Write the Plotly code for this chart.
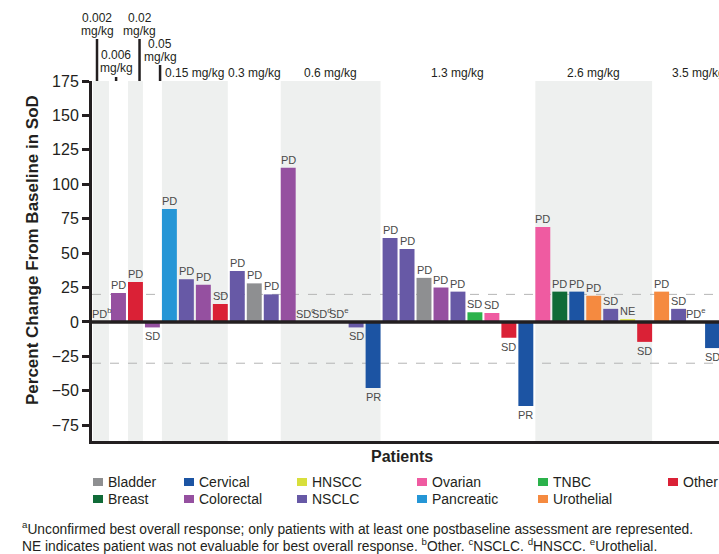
import plotly.graph_objects as go

# ---------------- data ----------------
slots = list(range(1, 38))
cancer = ["Other", "Colorectal", "Other", "Colorectal", "Pancreatic", "NSCLC", "Colorectal", "Other",
          "NSCLC", "Bladder", "NSCLC", "Colorectal", "NSCLC", "HNSCC", "Urothelial", "NSCLC", "Cervical",
          "NSCLC", "NSCLC", "Bladder", "Colorectal", "NSCLC", "TNBC", "Ovarian", "Other", "Cervical",
          "Ovarian", "Breast", "Cervical", "Urothelial", "NSCLC", "HNSCC", "Other",
          "Urothelial", "NSCLC", "Urothelial", "Cervical"]
change = [0, 21, 29, -4, 82, 31, 27, 13, 37, 28, 20, 112, 0, 0, 0, -4, -48,
          61, 53, 32, 25, 22, 7, 6.5, -11.5, -61, 69, 22, 22, 19, 9.5, 2, -14.5,
          22, 9.5, 0, -19]
response = ["PD<sup>b</sup>", "PD", "PD", "SD", "PD", "PD", "PD", "SD", "PD", "PD", "PD", "PD",
            "SD<sup>c</sup>", "SD<sup>d</sup>", "SD<sup>e</sup>", "SD", "PR", "PD", "PD", "PD", "PD", "PD",
            "SD", "SD", "SD", "PR", "PD", "PD", "PD", "PD", "SD", "NE", "SD", "PD", "SD",
            "PD<sup>e</sup>", "SD"]

dose_labels = ["0.002<br>mg/kg", "0.006<br>mg/kg", "0.02<br>mg/kg", "0.05<br>mg/kg", "0.15 mg/kg",
               "0.3 mg/kg", "0.6 mg/kg", "1.3 mg/kg", "2.6 mg/kg", "3.5 mg/kg"]
dose_first = [1, 2, 3, 4, 5, 9, 12, 18, 27, 34]
dose_last = [1, 2, 3, 4, 8, 11, 17, 26, 33, 37]

legend_types = ["Bladder", "Breast", "Cervical", "Colorectal", "HNSCC", "NSCLC",
                "Ovarian", "Pancreatic", "TNBC", "Urothelial", "Other"]

footnote_1 = "<sup>a</sup>Unconfirmed best overall response; only patients with at least one postbaseline assessment are represented."
footnote_2 = ("NE indicates patient was not evaluable for best overall response. <sup>b</sup>Other. "
              "<sup>c</sup>NSCLC. <sup>d</sup>HNSCC. <sup>e</sup>Urothelial.")

# ---------------- style ----------------
colors = {
    "Bladder": "#8e8f91", "Breast": "#106b38", "Cervical": "#1c54a3", "Colorectal": "#9550a0",
    "HNSCC": "#d8df3c", "NSCLC": "#6759a6", "Ovarian": "#ef5ba1", "Pancreatic": "#2596d6",
    "TNBC": "#2bb24b", "Urothelial": "#f58a40", "Other": "#da2136",
}
DARK = "#231f20"
FONT = "Liberation Sans, Arial, sans-serif"
W, H = 719, 554
ML, MR, MT, MB = 92, 0, 81, 113
PW, PH = W - ML - MR, H - MT - MB
BAR_W = 0.88

def px_to_paper_x(px):
    return (px - ML) / PW

def px_to_paper_y(py):
    return (H - MB - py) / PH

fig = go.Figure()
fig.add_trace(go.Bar(
    x=slots, y=change, width=BAR_W,
    marker=dict(color=[colors[c] for c in cancer], line=dict(width=0)),
    showlegend=False, hoverinfo="x+y",
))

shapes = []
annotations = []

# shaded dose bands
for i, (a, b) in enumerate(zip(dose_first, dose_last)):
    if i % 2 == 0:
        shapes.append(dict(type="rect", xref="x", yref="paper", x0=a - BAR_W / 2 - (0.06 if a == 1 else 0),
                           x1=b + BAR_W / 2, y0=0, y1=1, fillcolor="#eef0ef", line_width=0, layer="below"))

# reference lines
for v in [20, -30]:
    shapes.append(dict(type="line", xref="paper", yref="y", x0=0, x1=1, y0=v, y1=v,
                       line=dict(color="#b5b5b5", width=1, dash="dash"), layer="below"))
shapes.append(dict(type="line", xref="paper", yref="y", x0=0, x1=1, y0=0, y1=0,
                   line=dict(color=DARK, width=3.5)))

# dose labels
small_x = [0.735, 1.86, 3.24, 4.45]          # label / leader positions (slot units)
small_line_top = [39, 77, 39, 65]            # px
small_text_rows = [(18, 31), (55, 68), (18, 31), (44, 57)]  # px centres of the two lines
for i, lab in enumerate(dose_labels):
    if i < 4:
        x = small_x[i]
        shapes.append(dict(type="line", xref="x", yref="paper", x0=x, x1=x,
                           y0=1, y1=px_to_paper_y(small_line_top[i]),
                           line=dict(color=DARK, width=2.5)))
        for part, py in zip(lab.split("<br>"), small_text_rows[i]):
            annotations.append(dict(x=x, y=px_to_paper_y(py), xref="x", yref="paper", text=part,
                                    showarrow=False, xanchor="center", yanchor="middle", borderpad=0,
                                    font=dict(size=12, color=DARK, family=FONT)))
    else:
        x = (dose_first[i] + dose_last[i]) / 2 if i < 9 else 36.2
        annotations.append(dict(x=x, y=px_to_paper_y(73), xref="x", yref="paper", text=lab,
                                showarrow=False, xanchor="center", yanchor="middle", borderpad=0,
                                font=dict(size=12, color=DARK, family=FONT)))

# bar labels
for s, v, r in zip(slots, change, response):
    annotations.append(dict(x=s, y=v, xref="x", yref="y", text=r, showarrow=False,
                            yanchor="bottom" if v >= 0 else "top",
                            yshift=1 if v >= 0 else -2, borderpad=0,
                            font=dict(size=11, color="#4a4a4a", family=FONT)))

# axis title and x label
annotations.append(dict(x=px_to_paper_x(32), y=px_to_paper_y(250), xref="paper", yref="paper",
                        text="<b>Percent Change From Baseline in SoD</b>", textangle=-90, showarrow=False,
                        xanchor="center", yanchor="middle",
                        font=dict(size=17, color=DARK, family=FONT)))
annotations.append(dict(x=px_to_paper_x(402), y=px_to_paper_y(456), xref="paper", yref="paper",
                        text="<b>Patients</b>", showarrow=False, xanchor="center", yanchor="middle",
                        font=dict(size=16, color=DARK, family=FONT)))

# manual legend (2 rows, column-major)
col_px = [93, 184, 297, 417, 538, 668]
row_py = [482, 499]
for k, t in enumerate(legend_types):
    cx, ry = col_px[k // 2], row_py[k % 2]
    shapes.append(dict(type="rect", xref="paper", yref="paper",
                       x0=px_to_paper_x(cx), x1=px_to_paper_x(cx + 10),
                       y0=px_to_paper_y(ry + 4), y1=px_to_paper_y(ry - 4),
                       fillcolor=colors[t], line_width=0))
    annotations.append(dict(x=px_to_paper_x(cx + 14), y=px_to_paper_y(ry), xref="paper", yref="paper",
                            text=t, showarrow=False, xanchor="left", yanchor="middle", borderpad=0,
                            font=dict(size=14, color=DARK, family=FONT)))

# footnotes
for txt, py in [(footnote_1, 528), (footnote_2, 545)]:
    annotations.append(dict(x=px_to_paper_x(21), y=px_to_paper_y(py), xref="paper", yref="paper",
                            text=txt, showarrow=False, xanchor="left", yanchor="middle", borderpad=0,
                            font=dict(size=13.8, color=DARK, family=FONT), align="left"))

fig.update_layout(
    width=W, height=H, margin=dict(l=ML, r=MR, t=MT, b=MB, autoexpand=False),
    plot_bgcolor="white", paper_bgcolor="white",
    font=dict(family=FONT, color=DARK),
    shapes=shapes, annotations=annotations,
    xaxis=dict(range=[0.44, 37.38], showgrid=False, zeroline=False, showticklabels=False,
               ticks="", showline=True, linewidth=3, linecolor=DARK, fixedrange=True),
    yaxis=dict(range=[-86.5, 175], tickvals=list(range(-75, 176, 25)), showgrid=False, zeroline=False,
               ticks="outside", ticklen=7, tickwidth=2.5, tickcolor=DARK,
               showline=True, linewidth=3, linecolor=DARK,
               tickfont=dict(size=16, color=DARK, family=FONT), fixedrange=True),
    showlegend=False,
)

fig.write_html("out.html", config={"displayModeBar": False},
               post_script="document.body.style.margin='0px';document.body.style.overflow='hidden';")
